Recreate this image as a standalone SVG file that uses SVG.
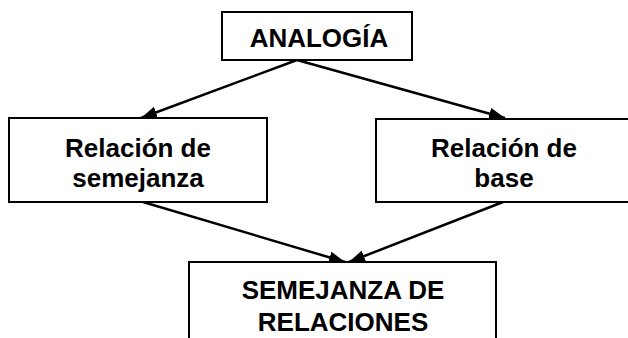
<svg xmlns="http://www.w3.org/2000/svg" width="628" height="338" viewBox="0 0 628 338">
<style>
.box{fill:#fff;stroke:#000;stroke-width:2}
.t{font-family:"Liberation Sans",Arial,sans-serif;font-weight:bold;font-size:26px;fill:#000;text-anchor:middle}
.c{stroke:#000;stroke-width:2.5;fill:none;marker-end:url(#ah)}
</style>
<defs>
<marker id="ah" markerWidth="16" markerHeight="12" refX="16" refY="6" orient="auto" markerUnits="userSpaceOnUse">
<path d="M0,0 L16,6 L0,12 z" fill="#000"/>
</marker>
</defs>
<rect width="628" height="338" fill="#fff"/>
<g id="connectors">
<line class="c" x1="297" y1="60" x2="141" y2="118"/>
<line class="c" x1="297" y1="60" x2="505" y2="118"/>
<line class="c" x1="143" y1="202" x2="345" y2="262"/>
<line class="c" x1="503" y1="202" x2="349" y2="262"/>
</g>
<g id="analogia">
<rect class="box" x="222" y="12" width="190" height="48"/>
<text class="t" x="319" y="47">ANALOGÍA</text>
</g>
<g id="relacion-semejanza">
<rect class="box" x="9" y="118" width="258" height="84"/>
<text class="t" x="138" y="157">Relación de</text>
<text class="t" x="138" y="187">semejanza</text>
</g>
<g id="relacion-base">
<rect class="box" x="376" y="119" width="256" height="83"/>
<text class="t" x="504" y="157">Relación de</text>
<text class="t" x="504" y="187">base</text>
</g>
<g id="semejanza-relaciones">
<rect class="box" x="189" y="262" width="307" height="90"/>
<text class="t" x="343" y="299">SEMEJANZA DE</text>
<text class="t" x="343" y="331">RELACIONES</text>
</g>
</svg>
